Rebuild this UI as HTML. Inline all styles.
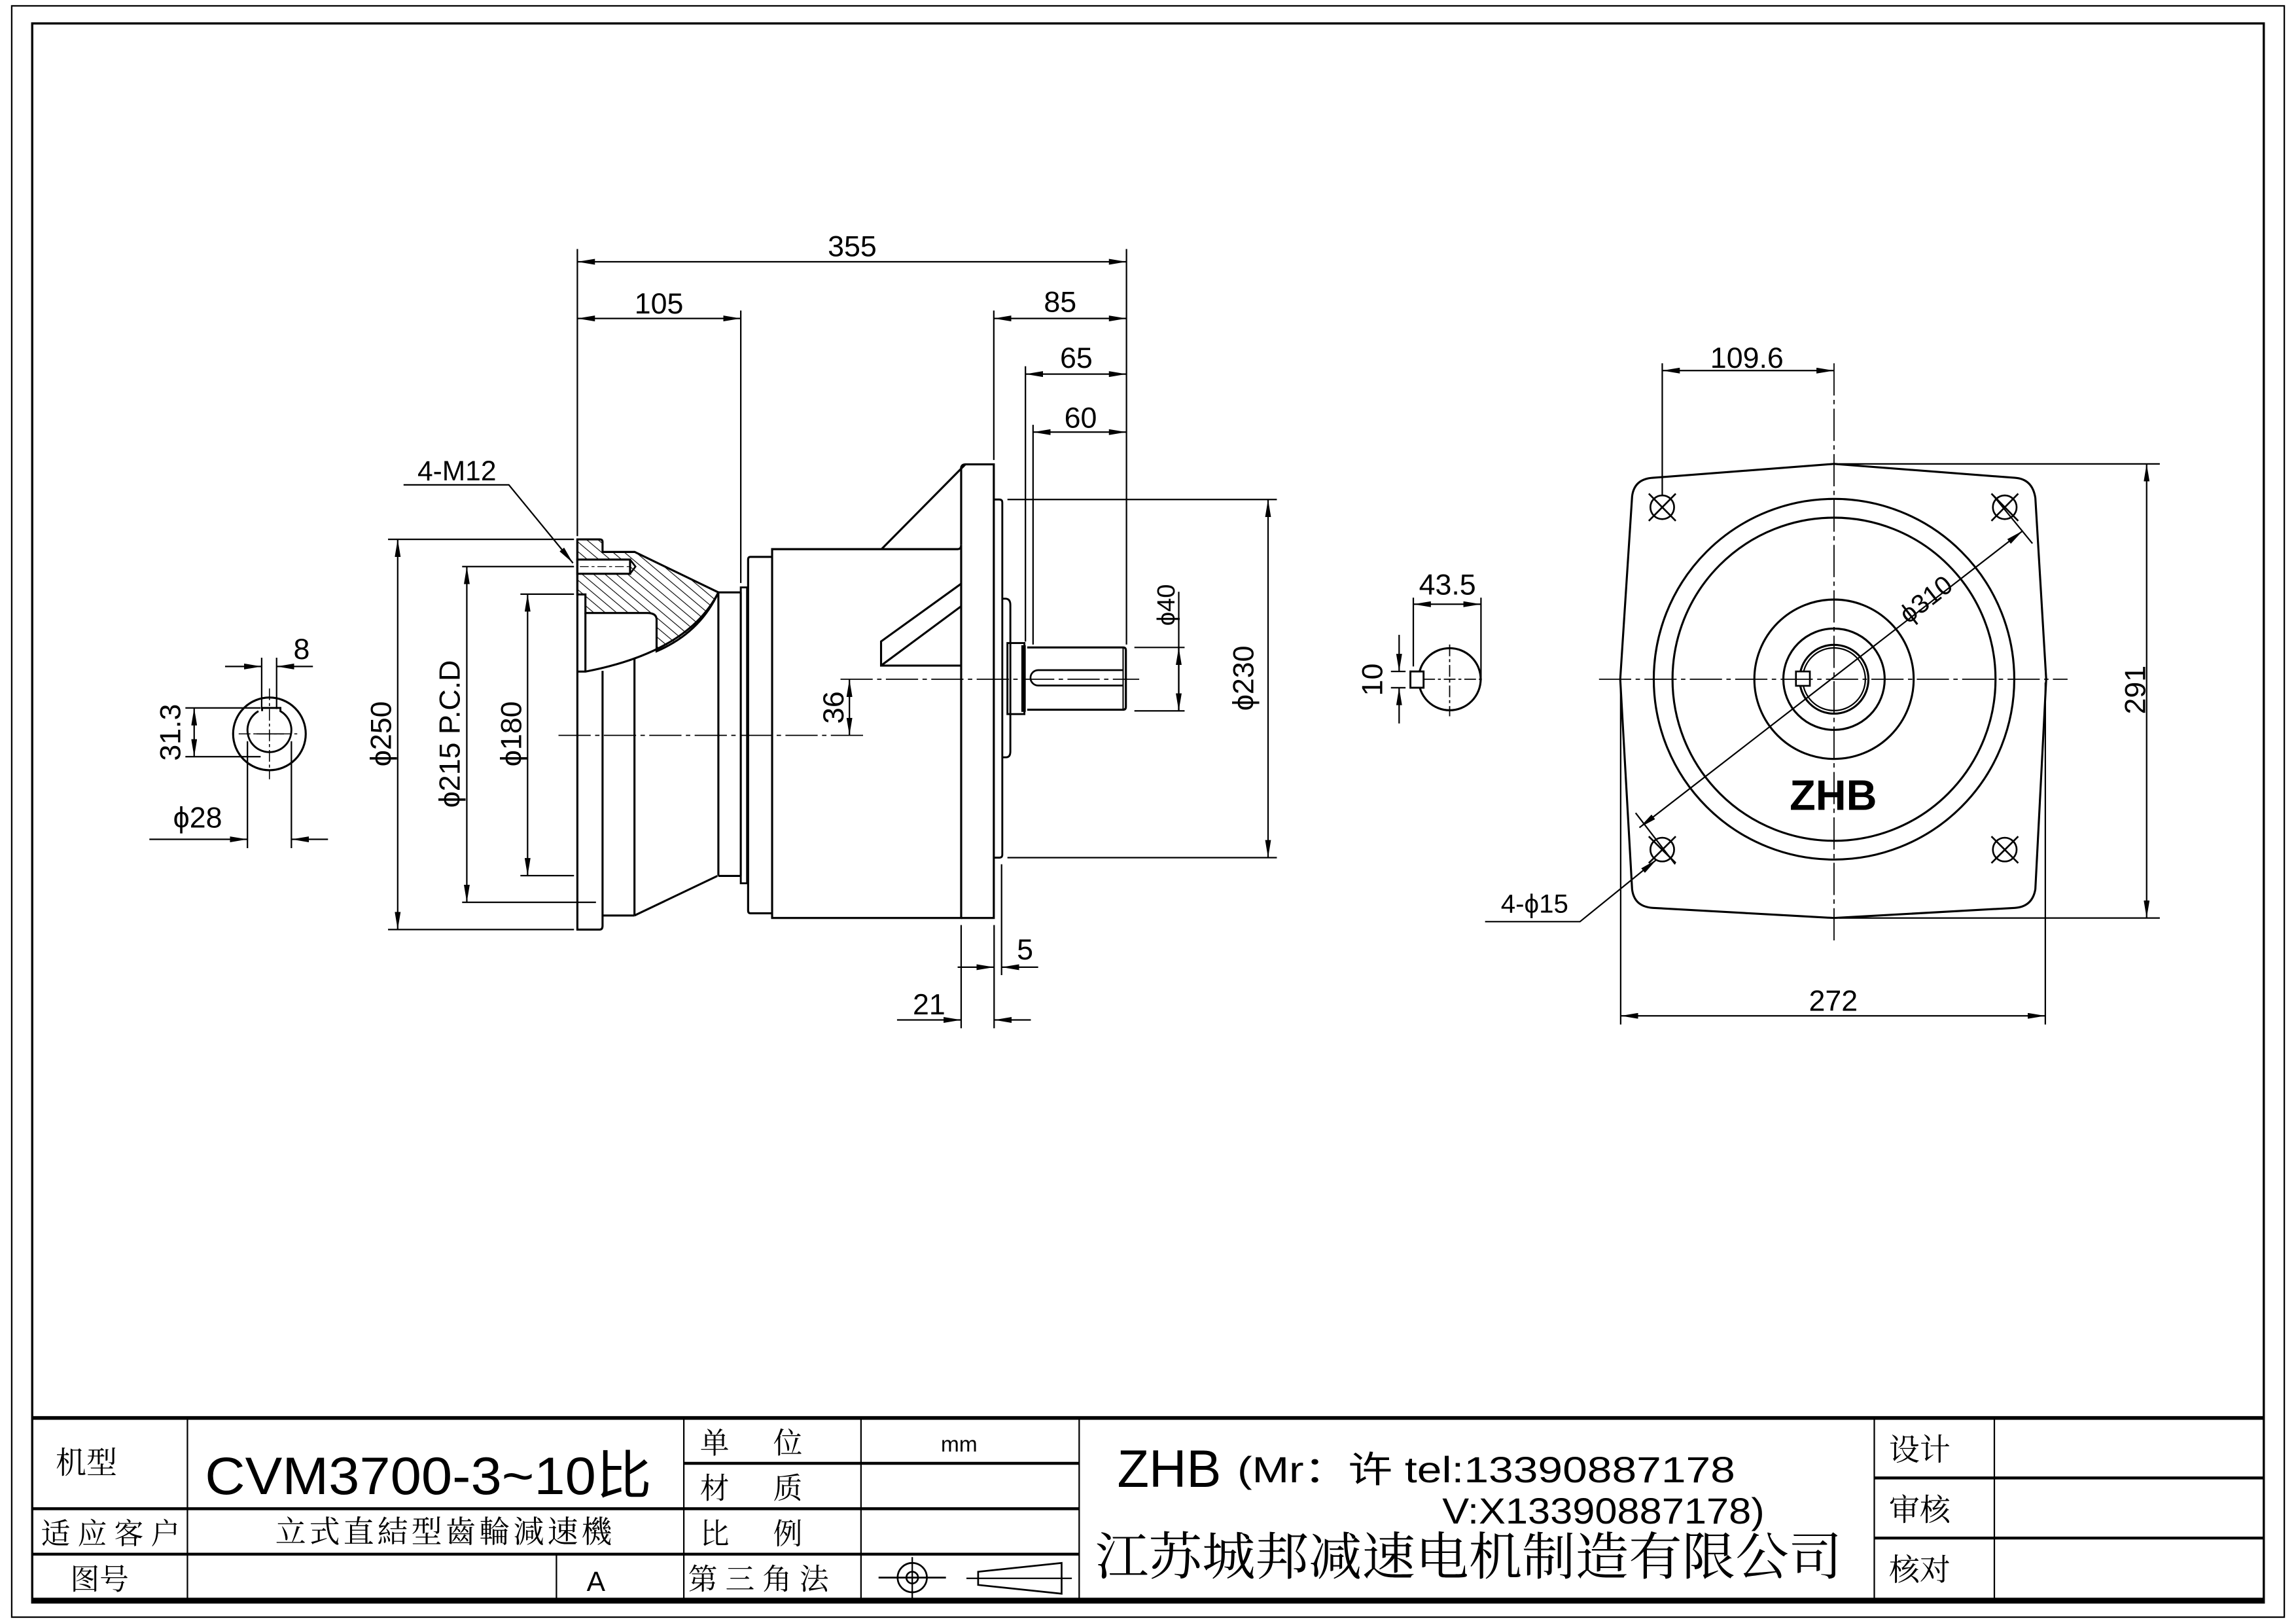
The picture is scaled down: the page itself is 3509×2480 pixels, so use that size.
<!DOCTYPE html>
<html><head><meta charset="utf-8"><style>
html,body{margin:0;padding:0;background:#fff;}
svg{display:block;}
text{font-family:"Liberation Sans","Noto Sans CJK SC",sans-serif;fill:#000;}
.s{font-family:"Liberation Serif","Noto Serif CJK SC",serif;}
</style></head><body>
<svg width="3509" height="2480" viewBox="0 0 1568 1108" preserveAspectRatio="none" xmlns="http://www.w3.org/2000/svg">
<defs>
<marker id="a" viewBox="0 0 12 4" refX="12" refY="2" markerWidth="12" markerHeight="4" markerUnits="userSpaceOnUse" orient="auto-start-reverse"><path d="M0,0 L12,2 L0,4 z" fill="#000"/></marker>
<pattern id="h" patternUnits="userSpaceOnUse" width="5" height="5" patternTransform="rotate(-50)"><line x1="0" y1="0" x2="0" y2="5" stroke="#000" stroke-width="1"/></pattern>
</defs>
<rect width="1568" height="1108" fill="#fff"/>
<!-- frames -->
<rect x="8" y="4" width="1552" height="1100" fill="none" stroke="#000" stroke-width="1"/>
<rect x="22" y="16" width="1524" height="1078" fill="none" stroke="#000" stroke-width="1.5"/>

<g stroke="#000" fill="none" stroke-width="1">
<!-- ===== small shaft end view (left) ===== -->
<circle cx="184" cy="501" r="24.8" stroke-width="1.4"/>
<path d="M176.5,485.5 A15,15 0 1 0 191.5,485.5 L191.5,483.3 L179,483.3 L179,485.5" stroke-width="1.3"/>
<line x1="175" y1="501" x2="194" y2="501" stroke-width="0.8"/>
<line x1="163" y1="501" x2="205" y2="501" stroke-width="0.7" stroke-dasharray="8,2,2,2"/>
<line x1="184" y1="470" x2="184" y2="532" stroke-width="0.7" stroke-dasharray="8,2,2,2"/>
<line x1="169" y1="506" x2="169" y2="579"/>
<line x1="199" y1="506" x2="199" y2="579"/>
<line x1="102" y1="573" x2="169" y2="573" marker-end="url(#a)"/>
<line x1="224" y1="573" x2="199" y2="573" marker-end="url(#a)"/>
<line x1="126.6" y1="483.3" x2="178" y2="483.3"/>
<line x1="126.6" y1="516.6" x2="178" y2="516.6"/>
<line x1="132.6" y1="483.3" x2="132.6" y2="516.6" marker-start="url(#a)" marker-end="url(#a)"/>
<line x1="178.7" y1="449" x2="178.7" y2="484"/>
<line x1="188.9" y1="449" x2="188.9" y2="484"/>
<line x1="153.7" y1="455" x2="178.7" y2="455" marker-end="url(#a)"/>
<line x1="213.7" y1="455" x2="188.9" y2="455" marker-end="url(#a)"/>

<!-- ===== side view ===== -->
<!-- hatched section -->
<path d="M394.3,368.2 L409.5,368.2 Q411.5,368.2 411.5,370 L411.5,376.8 L433.4,376.8 L490.6,404.4 Q478,432 448.4,444.6 L448.4,423 Q448.4,418.5 442,418.5 L399.8,418.5 L399.8,405.8 L394.3,405.8 Z" fill="url(#h)" stroke-width="1.4"/>
<rect x="394.3" y="382" width="36" height="9.7" fill="#fff" stroke-width="1.4"/>
<path d="M430.3,382 L434,386.8 L430.3,391.7" stroke-width="1.2"/>
<line x1="396" y1="386.8" x2="430" y2="386.8" stroke-width="0.6" stroke-dasharray="6,2,2,2"/>
<!-- flange left plate -->
<path d="M394.3,368.2 L394.3,634.6 L409.5,634.6 Q411.5,634.6 411.5,632 L411.5,458" stroke-width="1.4"/>
<path d="M399.8,418.5 L399.8,458.5" stroke-width="1.4"/>
<path d="M490.6,404.4 Q470,445 399.8,458.5 L394.3,458.5" stroke-width="1.4"/>
<line x1="433.3" y1="449" x2="433.3" y2="625" stroke-width="1.4"/>
<line x1="411.5" y1="625" x2="433.3" y2="625" stroke-width="1.4"/>
<line x1="433.3" y1="625" x2="489.9" y2="598" stroke-width="1.4"/>
<line x1="490.6" y1="404.4" x2="490.6" y2="598" stroke-width="1.4"/>
<line x1="490.6" y1="404.4" x2="505.9" y2="404.4" stroke-width="1.4"/>
<line x1="490.6" y1="598" x2="505.9" y2="598" stroke-width="1.4"/>
<!-- rings -->
<path d="M505.9,401 L510.2,401 L510.2,603 L505.9,603 Z" stroke-width="1.3"/>
<line x1="505.9" y1="404.4" x2="505.9" y2="598" stroke-width="1.3"/>
<path d="M527.3,380.2 L512.5,380.2 Q510.9,380.2 510.9,382 L510.9,621.5 Q510.9,623.5 512.5,623.5 L527.3,623.5" stroke-width="1.4"/>
<!-- body -->
<path d="M527.3,374.9 L654,374.9 Q656.4,374.9 656.4,372 L656.4,626.7 L527.3,626.7 Z" stroke-width="1.4"/>
<!-- gussets -->
<line x1="602" y1="374.9" x2="659.3" y2="317" stroke-width="1.4"/>
<path d="M656.4,398.5 L601.7,437.9 L601.7,454.4 L656.4,454.4" stroke-width="1.4"/>
<line x1="601.7" y1="454.4" x2="656.4" y2="413.9" stroke-width="1.4"/>
<!-- flange plate -->
<path d="M656.4,372 L656.4,319 Q657,317 659.3,317 L678.7,317 L678.7,626.7 L656.4,626.7" stroke-width="1.4"/>
<path d="M678.7,341 L682.5,341 Q684.5,341 684.5,343 L684.5,583.5 Q684.5,585.5 682.5,585.5 L678.7,585.5" stroke-width="1.3"/>
<path d="M684.5,408.7 L687,408.7 Q690,409 690,413 L690,513 Q690,517 687,517 L684.5,517" stroke-width="1.3"/>
<!-- collar & shaft -->
<rect x="688" y="439" width="11.6" height="48.5" stroke-width="1.3"/>
<rect x="697.5" y="440.5" width="3" height="45.5" fill="#000" stroke="none"/>
<path d="M701.5,442 L767,442 Q768.9,442 768.9,444 L768.9,482.5 Q768.9,484.5 767,484.5 L701.5,484.5" stroke-width="1.4"/>
<line x1="767" y1="442" x2="767" y2="484.5" stroke-width="0.9"/>
<path d="M767,457.5 L709,457.5 A5.2,5.2 0 0 0 709,468 L767,468" stroke-width="1.2"/>
<!-- centerlines -->
<line x1="381.4" y1="502" x2="589.8" y2="502" stroke-width="0.8" stroke-dasharray="22,3,3,3"/>
<line x1="574" y1="463.7" x2="778" y2="463.7" stroke-width="0.8" stroke-dasharray="22,3,3,3"/>

<!-- dims top -->
<line x1="394.3" y1="170" x2="394.3" y2="366"/>
<line x1="769.3" y1="170" x2="769.3" y2="440"/>
<line x1="394.3" y1="178.7" x2="769.3" y2="178.7" marker-start="url(#a)" marker-end="url(#a)"/>
<line x1="505.9" y1="212" x2="505.9" y2="398"/>
<line x1="394.3" y1="217.4" x2="505.9" y2="217.4" marker-start="url(#a)" marker-end="url(#a)"/>
<line x1="678.7" y1="212" x2="678.7" y2="314"/>
<line x1="678.7" y1="217.4" x2="769.3" y2="217.4" marker-start="url(#a)" marker-end="url(#a)"/>
<line x1="700.3" y1="250" x2="700.3" y2="438"/>
<line x1="700.3" y1="255.4" x2="769.3" y2="255.4" marker-start="url(#a)" marker-end="url(#a)"/>
<line x1="705.5" y1="290" x2="705.5" y2="440"/>
<line x1="705.5" y1="295" x2="769.3" y2="295" marker-start="url(#a)" marker-end="url(#a)"/>

<!-- left dims -->
<line x1="265" y1="368.2" x2="392" y2="368.2"/>
<line x1="265" y1="634.6" x2="392" y2="634.6"/>
<line x1="271.6" y1="368.2" x2="271.6" y2="634.6" marker-start="url(#a)" marker-end="url(#a)"/>
<line x1="315.6" y1="386.8" x2="392" y2="386.8"/>
<line x1="315.6" y1="616" x2="407" y2="616"/>
<line x1="318.8" y1="386.8" x2="318.8" y2="616" marker-start="url(#a)" marker-end="url(#a)"/>
<line x1="355.4" y1="405.6" x2="392" y2="405.6"/>
<line x1="355.4" y1="597.8" x2="392" y2="597.8"/>
<line x1="360.3" y1="405.6" x2="360.3" y2="597.8" marker-start="url(#a)" marker-end="url(#a)"/>
<!-- 4-M12 leader -->
<polyline points="275.6,331 347.5,331 391.3,384.4" marker-end="url(#a)"/>
<!-- 36 -->
<line x1="580.1" y1="463.8" x2="580.1" y2="502" marker-start="url(#a)" marker-end="url(#a)"/>
<!-- phi40 -->
<line x1="774.7" y1="442" x2="809" y2="442"/>
<line x1="774.7" y1="485.3" x2="809" y2="485.3"/>
<line x1="805" y1="404" x2="805" y2="485.3" marker-end="url(#a)"/>
<line x1="805" y1="442" x2="805" y2="485.3" marker-start="url(#a)"/>
<!-- phi230 -->
<line x1="688" y1="341" x2="872" y2="341"/>
<line x1="688" y1="585.5" x2="872" y2="585.5"/>
<line x1="866" y1="341" x2="866" y2="585.5" marker-start="url(#a)" marker-end="url(#a)"/>
<!-- bottom 5 / 21 -->
<line x1="656.4" y1="631.5" x2="656.4" y2="702"/>
<line x1="678.9" y1="631.5" x2="678.9" y2="702"/>
<line x1="684" y1="590" x2="684" y2="665.7"/>
<line x1="654" y1="660.3" x2="678.9" y2="660.3" marker-end="url(#a)"/>
<line x1="709" y1="660.3" x2="684" y2="660.3" marker-end="url(#a)"/>
<line x1="612.6" y1="696.3" x2="656.4" y2="696.3" marker-end="url(#a)"/>
<line x1="704" y1="696.3" x2="678.9" y2="696.3" marker-end="url(#a)"/>

<!-- ===== shaft key view ===== -->
<circle cx="990" cy="463.7" r="21.2" stroke-width="1.4"/>
<rect x="963.2" y="458.4" width="9" height="11.1" fill="#fff" stroke-width="1.3"/>
<line x1="972" y1="463.7" x2="1013" y2="463.7" stroke-width="0.8" stroke-dasharray="8,2,2,2"/>
<line x1="990" y1="440" x2="990" y2="489" stroke-width="0.8" stroke-dasharray="8,2,2,2"/>
<line x1="965.2" y1="408" x2="965.2" y2="455"/>
<line x1="1011.4" y1="408" x2="1011.4" y2="465"/>
<line x1="965.2" y1="412.5" x2="1011.4" y2="412.5" marker-start="url(#a)" marker-end="url(#a)"/>
<line x1="949.9" y1="458.4" x2="959.9" y2="458.4"/>
<line x1="949.9" y1="469.5" x2="959.9" y2="469.5"/>
<line x1="955.5" y1="433.4" x2="955.5" y2="458.4" marker-end="url(#a)"/>
<line x1="955.5" y1="493.9" x2="955.5" y2="469.5" marker-end="url(#a)"/>

<!-- ===== front view ===== -->
<path d="M1252.5,316.7 L1376,326.2 Q1388,327 1390,340 L1397.4,463.7 L1390,607 Q1388,619 1376,619.8 L1252.5,626.7 L1128.8,619.8 Q1116,619 1114.6,607 L1106.5,463.7 L1114.6,339 Q1116,327 1128.8,326.2 Z" stroke-width="1.4"/>
<circle cx="1252.5" cy="463.7" r="123.1" stroke-width="1.4"/>
<circle cx="1252.5" cy="463.7" r="110.3" stroke-width="1.4"/>
<circle cx="1252.5" cy="463.7" r="54.4" stroke-width="1.4"/>
<circle cx="1252.5" cy="463.7" r="34.6" stroke-width="1.4"/>
<circle cx="1252.5" cy="463.7" r="23.5" stroke-width="1.4"/>
<circle cx="1252.5" cy="463.7" r="21.4" stroke-width="1"/>
<rect x="1226.5" y="458.4" width="9.5" height="9.8" fill="#fff" stroke-width="1.2"/>
<line x1="1092" y1="463.7" x2="1412" y2="463.7" stroke-width="0.8" stroke-dasharray="22,3,3,3"/>
<line x1="1252.5" y1="248" x2="1252.5" y2="645" stroke-width="0.8" stroke-dasharray="22,3,3,3"/>
<!-- bolt holes -->
<g stroke-width="1.2">
<circle cx="1135.2" cy="346.3" r="8.1"/><line x1="1126" y1="337" x2="1144.4" y2="355.6"/><line x1="1144.4" y1="337" x2="1126" y2="355.6"/>
<circle cx="1369.1" cy="346.3" r="8.1"/><line x1="1360" y1="337" x2="1378.3" y2="355.6"/><line x1="1378.3" y1="337" x2="1360" y2="355.6"/>
<circle cx="1135.2" cy="580" r="8.1"/><line x1="1126" y1="571" x2="1144.4" y2="589.2"/><line x1="1144.4" y1="571" x2="1126" y2="589.2"/>
<circle cx="1369.1" cy="580" r="8.1"/><line x1="1360" y1="571" x2="1378.3" y2="589.2"/><line x1="1378.3" y1="571" x2="1360" y2="589.2"/>
</g>
<!-- phi310 -->
<line x1="1119.6" y1="565" x2="1381.5" y2="362.3" marker-start="url(#a)" marker-end="url(#a)"/>
<line x1="1117" y1="555" x2="1144" y2="590"/>
<line x1="1361" y1="338" x2="1388" y2="371"/>
<!-- 4-phi15 -->
<polyline points="1014.2,629.2 1079,629.2 1131.4,586.8" marker-end="url(#a)"/>
<!-- 109.6 -->
<line x1="1135.2" y1="248" x2="1135.2" y2="338"/>
<line x1="1135.2" y1="253" x2="1252.5" y2="253" marker-start="url(#a)" marker-end="url(#a)"/>
<!-- 291 -->
<line x1="1256" y1="316.7" x2="1475" y2="316.7"/>
<line x1="1256" y1="626.7" x2="1475" y2="626.7"/>
<line x1="1466" y1="316.7" x2="1466" y2="626.7" marker-start="url(#a)" marker-end="url(#a)"/>
<!-- 272 -->
<line x1="1106.8" y1="466" x2="1106.8" y2="699.4"/>
<line x1="1396.8" y1="466" x2="1396.8" y2="699.4"/>
<line x1="1106.8" y1="693.5" x2="1396.8" y2="693.5" marker-start="url(#a)" marker-end="url(#a)"/>
</g>

<!-- dim texts -->
<g font-size="20">
<text x="582" y="175" text-anchor="middle">355</text>
<text x="450" y="214" text-anchor="middle">105</text>
<text x="724" y="213" text-anchor="middle">85</text>
<text x="735" y="251" text-anchor="middle">65</text>
<text x="738" y="292" text-anchor="middle">60</text>
<text x="312" y="328" text-anchor="middle" font-size="19">4-M12</text>
<text x="206" y="450" text-anchor="middle">8</text>
<text x="135" y="565" text-anchor="middle">ϕ28</text>
<text transform="translate(123,500) rotate(-90)" text-anchor="middle">31.3</text>
<text transform="translate(267,501) rotate(-90)" text-anchor="middle">ϕ250</text>
<text transform="translate(314,501) rotate(-90)" text-anchor="middle">ϕ215 P.C.D</text>
<text transform="translate(356,501) rotate(-90)" text-anchor="middle">ϕ180</text>
<text transform="translate(576,483) rotate(-90)" text-anchor="middle">36</text>
<text transform="translate(802,413) rotate(-90)" text-anchor="middle" font-size="17">ϕ40</text>
<text transform="translate(856,463) rotate(-90)" text-anchor="middle">ϕ230</text>
<text x="700" y="655" text-anchor="middle">5</text>
<text x="634.5" y="692.6" text-anchor="middle">21</text>
<text x="988.5" y="406" text-anchor="middle">43.5</text>
<text transform="translate(944,464) rotate(-90)" text-anchor="middle">10</text>
<text x="1193" y="251" text-anchor="middle">109.6</text>
<text transform="translate(1465,471) rotate(-90)" text-anchor="middle">291</text>
<text x="1252" y="690" text-anchor="middle">272</text>
<text x="1048" y="623" text-anchor="middle" font-size="18">4-ϕ15</text>
<text transform="translate(1319,414) rotate(-38)" text-anchor="middle" font-size="18">ϕ310</text>
<text x="1252" y="553" text-anchor="middle" font-size="29" font-weight="bold">ZHB</text>
</g>

<!-- ===== title block ===== -->
<g stroke="#000" fill="none">
<line x1="22" y1="968" x2="1546" y2="968" stroke-width="2.5"/>
<line x1="22" y1="1092" x2="1546" y2="1092" stroke-width="2.5"/>
<line x1="128" y1="968" x2="128" y2="1092" stroke-width="1"/>
<line x1="467" y1="968" x2="467" y2="1092" stroke-width="1"/>
<line x1="588" y1="968" x2="588" y2="1092" stroke-width="1"/>
<line x1="737" y1="968" x2="737" y2="1092" stroke-width="1"/>
<line x1="1280" y1="968" x2="1280" y2="1092" stroke-width="1"/>
<line x1="1362" y1="968" x2="1362" y2="1092" stroke-width="1"/>
<line x1="380" y1="1061" x2="380" y2="1092" stroke-width="1"/>
<line x1="22" y1="1030" x2="737" y2="1030" stroke-width="2"/>
<line x1="22" y1="1061" x2="737" y2="1061" stroke-width="2"/>
<line x1="467" y1="999" x2="737" y2="999" stroke-width="2"/>
<line x1="1280" y1="1009" x2="1546" y2="1009" stroke-width="2"/>
<line x1="1280" y1="1050" x2="1546" y2="1050" stroke-width="2"/>
<!-- third angle symbol -->
<circle cx="623" cy="1077" r="10" stroke-width="1.2"/>
<circle cx="623" cy="1077" r="4" stroke-width="1.2"/>
<line x1="600" y1="1077" x2="646" y2="1077" stroke-width="1.2"/>
<line x1="623" y1="1063" x2="623" y2="1091" stroke-width="1"/>
<path d="M668,1073 L725,1067 L725,1088 L668,1082 Z" stroke-width="1.2"/>
<line x1="660" y1="1077.5" x2="732" y2="1077.5" stroke-width="1"/>
</g>
<g class="s">
<text x="38" y="1006" font-size="21" class="s">机型</text>
<text x="140" y="1020" font-size="36" textLength="305" lengthAdjust="spacingAndGlyphs" style="font-family:'Liberation Sans','Noto Sans CJK SC',sans-serif">CVM3700-3~10比</text>
<text x="478" y="992" font-size="20" class="s">单</text><text x="528" y="992" font-size="20" class="s">位</text>
<text x="478" y="1023" font-size="20" class="s">材</text><text x="528" y="1023" font-size="20" class="s">质</text>
<text x="478" y="1054" font-size="20" class="s">比</text><text x="528" y="1054" font-size="20" class="s">例</text>
<text x="470" y="1085" font-size="20" class="s" textLength="96">第三角法</text>
<text x="655" y="991" font-size="15" text-anchor="middle">mm</text>
<text x="28" y="1054" font-size="20" class="s" textLength="95">适应客户</text>
<text x="188" y="1053" font-size="21" class="s" textLength="230">立式直結型齒輪減速機</text>
<text x="48" y="1085" font-size="20" class="s">图号</text>
<text x="407" y="1086" font-size="19" text-anchor="middle">A</text>
<text x="763" y="1015" font-size="36" textLength="71" lengthAdjust="spacingAndGlyphs" style="font-family:'Liberation Sans',sans-serif">ZHB</text>
<text x="845" y="1012" font-size="25" textLength="340" lengthAdjust="spacingAndGlyphs" style="font-family:'Liberation Sans','Noto Sans CJK SC',sans-serif">(Mr：许 tel:13390887178</text>
<text x="985" y="1040" font-size="25" textLength="220" lengthAdjust="spacingAndGlyphs" style="font-family:'Liberation Sans','Noto Sans CJK SC',sans-serif">V:X13390887178)</text>
<text x="748" y="1075" font-size="35" class="s" textLength="510" lengthAdjust="spacingAndGlyphs">江苏城邦减速电机制造有限公司</text>
<text x="1290" y="997" font-size="21" class="s">设计</text>
<text x="1290" y="1038" font-size="21" class="s">审核</text>
<text x="1290" y="1079" font-size="21" class="s">核对</text>
</g>
</svg>
</body></html>
